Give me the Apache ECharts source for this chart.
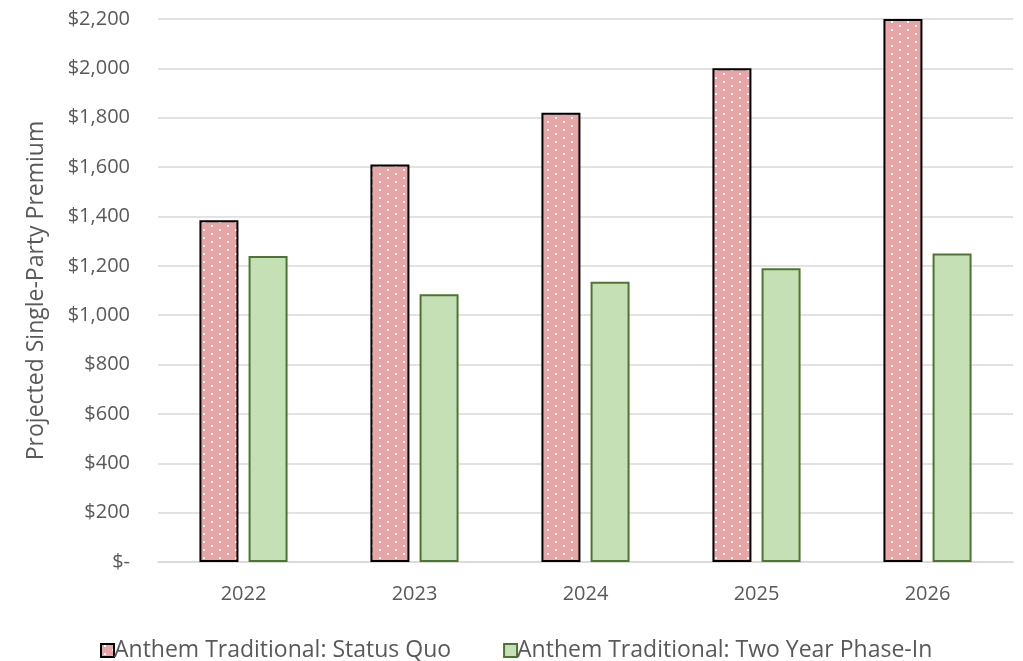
<!DOCTYPE html>
<html>
<head>
<meta charset="utf-8">
<script src="https://cdn.jsdelivr.net/npm/echarts@6/dist/echarts.min.js"></script>
<style>
  html, body { margin: 0; padding: 0; background: #fff; }
  #chart { width: 1023px; height: 661px; }
</style>
</head>
<body>
<div id="chart"></div>
<script>
// Chart data
const years = ['2022', '2023', '2024', '2025', '2026'];
const statusQuo = [1385, 1610, 1820, 2000, 2200];
const phaseIn = [1240, 1085, 1135, 1190, 1250];
const seriesNames = ['Anthem Traditional: Status Quo', 'Anthem Traditional: Two Year Phase-In'];

// Dotted pink fill: staggered white dots on a pink ground
function dottedPattern() {
  const c = document.createElement('canvas');
  c.width = 16; c.height = 8;
  const g = c.getContext('2d');
  g.fillStyle = '#E8A5A5';
  g.fillRect(0, 0, 16, 8);
  g.fillStyle = '#ffffff';
  g.fillRect(3, 1, 2, 2);
  g.fillRect(11, 5, 2, 2);
  return c;
}

const font = '"Open Sans", "Noto Sans", sans-serif';
const textColor = '#595959';

const chart = echarts.init(document.getElementById('chart'), null, { renderer: 'canvas' });
chart.setOption({
  animation: false,
  backgroundColor: '#ffffff',
  textStyle: { fontFamily: font },
  grid: { left: 158, right: 10, top: 19, bottom: 99, containLabel: false },
  legend: {
    left: 100,
    top: 639,
    padding: 0,
    itemWidth: 13,
    itemHeight: 13,
    itemGap: 52,
    icon: 'rect',
    textStyle: { fontSize: 23, color: textColor, fontFamily: font, padding: [0, 0, 0, -5] },
    data: seriesNames
  },
  xAxis: {
    type: 'category',
    data: years,
    axisLine: { lineStyle: { color: '#D9D9D9', width: 1.5 } },
    axisTick: { show: false },
    axisLabel: { fontSize: 20, color: textColor, margin: 22, fontFamily: font }
  },
  yAxis: {
    type: 'value',
    min: 0,
    max: 2200,
    interval: 200,
    name: 'Projected Single-Party Premium',
    nameLocation: 'middle',
    nameGap: 110,
    nameTextStyle: { fontSize: 23, color: textColor, fontFamily: font },
    axisLine: { show: false },
    axisTick: { show: false },
    splitLine: { lineStyle: { color: '#D9D9D9', width: 1.5 } },
    axisLabel: {
      fontSize: 20,
      color: textColor,
      margin: 28,
      fontFamily: font,
      formatter: v => v === 0 ? '$-' : '$' + v.toLocaleString('en-US')
    }
  },
  series: [
    {
      name: seriesNames[0],
      type: 'bar',
      data: statusQuo,
      barWidth: 39,
      barGap: '26%',
      itemStyle: {
        color: { image: dottedPattern(), repetition: 'repeat' },
        borderColor: '#000000',
        borderWidth: 2
      }
    },
    {
      name: seriesNames[1],
      type: 'bar',
      data: phaseIn,
      barWidth: 39,
      itemStyle: {
        color: '#C5E0B4',
        borderColor: '#4E7530',
        borderWidth: 2
      }
    }
  ]
});
</script>
</body>
</html>
